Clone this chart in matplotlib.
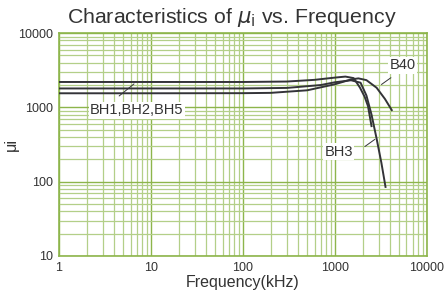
import numpy as np
import matplotlib.pyplot as plt
from matplotlib.ticker import LogLocator, FixedLocator, NullFormatter

plt.rcParams['font.family'] = ['Liberation Sans', 'DejaVu Sans']
plt.rcParams['mathtext.fontset'] = 'dejavusans'

# BH1, BH2, BH5 (top curve)
f_bh1 = [1, 10, 100, 300, 600, 1000, 1300, 1600, 1870, 2100, 2290, 2500]
u_bh1 = [2200, 2200, 2200, 2230, 2350, 2520, 2600, 2480, 1850, 1400, 1040, 560]
# BH3 (middle curve)
f_bh3 = [1, 10, 100, 300, 700, 1000, 1500, 1900, 2200, 2500, 2840, 3200, 3550]
u_bh3 = [1800, 1800, 1800, 1830, 2000, 2180, 2320, 2150, 1450, 800, 380, 180, 85]
# B40 (bottom curve)
f_b40 = [1, 10, 100, 200, 500, 1000, 1500, 1800, 2200, 2840, 3500, 4150]
u_b40 = [1550, 1550, 1555, 1570, 1700, 2050, 2380, 2460, 2330, 1840, 1300, 920]

xticks = [1, 10, 100, 1000, 10000]
yticks = [10, 100, 1000, 10000]

fig = plt.figure(figsize=(4.47, 3.04), dpi=100)
ax = fig.add_axes([0.132, 0.158, 0.823, 0.733])

line_c = '#333338'
for f, u in [(f_bh1, u_bh1), (f_bh3, u_bh3), (f_b40, u_b40)]:
    ax.plot(f, u, color=line_c, lw=1.4, zorder=3)

ax.set_xscale('log')
ax.set_yscale('log')
ax.set_xlim(1, 10000)
ax.set_ylim(10, 10000)
ax.xaxis.set_major_locator(FixedLocator(xticks))
ax.yaxis.set_major_locator(FixedLocator(yticks))
ax.xaxis.set_minor_locator(LogLocator(base=10, subs=np.arange(2, 10)))
ax.yaxis.set_minor_locator(LogLocator(base=10, subs=np.arange(2, 10)))
ax.xaxis.set_minor_formatter(NullFormatter())
ax.yaxis.set_minor_formatter(NullFormatter())
ax.set_xticklabels([str(t) for t in xticks])
ax.set_yticklabels([str(t) for t in yticks])

ax.grid(which='major', color='#8db54b', lw=1.0, zorder=1)
ax.grid(which='minor', color='#b3cf88', lw=0.9, zorder=1)
ax.tick_params(which='both', length=0, labelsize=9, colors='#333333', pad=4)
for s in ax.spines.values():
    s.set_color('#8db54b')
    s.set_linewidth(1.2)

ax.set_xlabel('Frequency(kHz)', fontsize=11.5, color='#333333', labelpad=1)
ax.set_ylabel('μi', fontsize=11.5, color='#333333')
ax.yaxis.set_label_coords(-0.11, 0.5)
fig.text(0.518, 0.925, r'Characteristics of $\mu_{\rm i}$ vs. Frequency',
         fontsize=15.3, color='#333333', ha='center', va='baseline')

bbox = dict(facecolor='white', edgecolor='none', pad=1.0)
lbl = dict(fontsize=10.5, color='#333333', ha='center', va='center', bbox=bbox, zorder=5)
ax.annotate('', xy=(6.9, 2190), xytext=(4.27, 1350),
            arrowprops=dict(arrowstyle='-', color=line_c, lw=0.7))
ax.text(7.0, 910, 'BH1,BH2,BH5', **lbl)
ax.annotate('', xy=(2880, 391), xytext=(2000, 283),
            arrowprops=dict(arrowstyle='-', color=line_c, lw=0.7))
ax.text(1100, 252, 'BH3', **lbl)
ax.annotate('', xy=(3030, 1935), xytext=(4300, 2640),
            arrowprops=dict(arrowstyle='-', color=line_c, lw=0.7))
ax.text(5420, 3670, 'B40', **lbl)

fig.savefig('out.png', dpi=100)
